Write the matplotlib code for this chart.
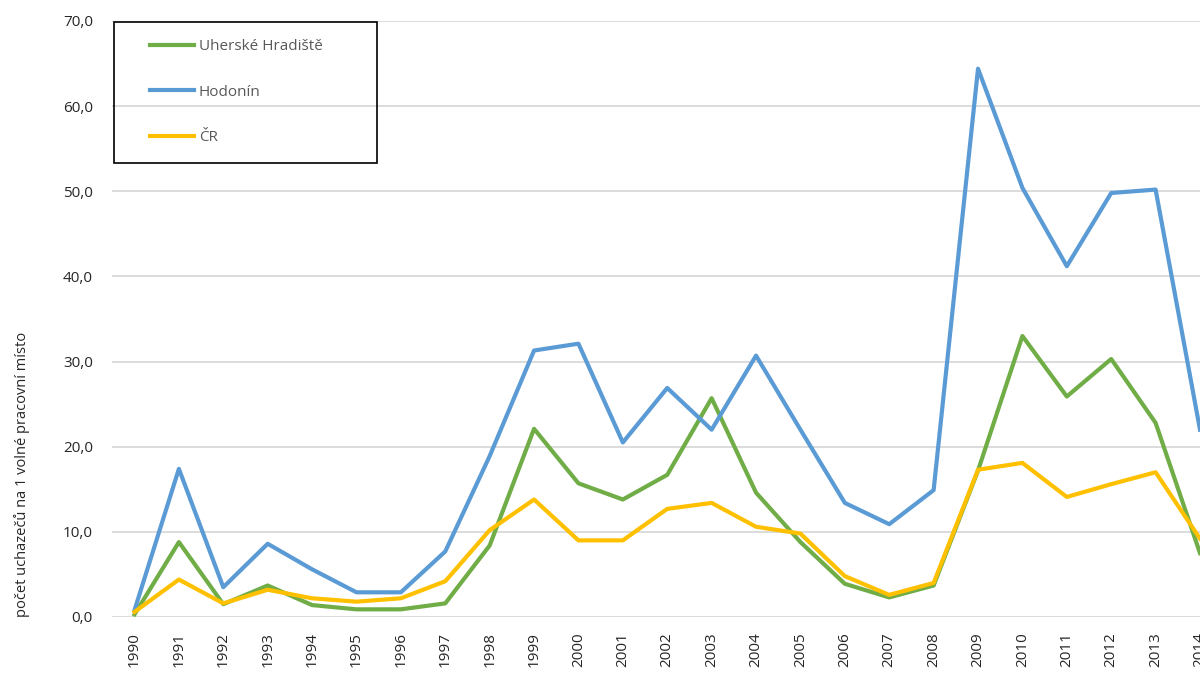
import matplotlib.pyplot as plt
from matplotlib.patches import Rectangle

years = [str(y) for y in range(1990, 2015)]

uherske_hradiste = [0.3, 8.8, 1.5, 3.7, 1.4, 0.9, 0.9, 1.6, 8.4, 22.1, 15.7, 13.8, 16.7,
                    25.7, 14.6, 8.8, 3.9, 2.3, 3.7, 17.2, 33.0, 25.9, 30.3, 22.8, 7.5]
hodonin = [0.8, 17.4, 3.5, 8.6, 5.6, 2.9, 2.9, 7.7, 18.9, 31.3, 32.1, 20.5, 26.9,
           22.0, 30.7, 22.0, 13.4, 10.9, 14.9, 64.4, 50.4, 41.2, 49.8, 50.2, 22.0]
cr = [0.6, 4.4, 1.6, 3.2, 2.2, 1.8, 2.2, 4.2, 10.2, 13.8, 9.0, 9.0, 12.7,
      13.4, 10.6, 9.8, 4.8, 2.6, 4.0, 17.3, 18.1, 14.1, 15.6, 17.0, 9.2]

plt.rcParams['font.family'] = ['Open Sans', 'DejaVu Sans']

W, H = 1200, 677
fig = plt.figure(figsize=(12, 6.77), dpi=100)
ax = fig.add_axes([112.3 / W, 1 - 617 / H, (1200 - 112.3) / W, (617 - 21) / H])

x = list(range(len(years)))
ax.plot(x, uherske_hradiste, color='#70AD47', lw=3, label='Uherské Hradiště', solid_joinstyle='round', zorder=3)
ax.plot(x, hodonin, color='#5B9BD5', lw=3, label='Hodonín', solid_joinstyle='round', zorder=3)
ax.plot(x, cr, color='#FFC000', lw=3, label='ČR', solid_joinstyle='round', zorder=4)

ax.set_xlim(-0.5, 24.0)
ax.set_ylim(0, 70)
ax.set_yticks(range(0, 71, 10))
ax.set_yticklabels([f'{v},0' for v in range(0, 71, 10)])
ax.set_xticks(x)
ax.set_xticklabels(years, rotation=90)
ax.tick_params(axis='y', length=0, pad=14, labelsize=11, labelcolor='#262626')
ax.tick_params(axis='x', length=0, pad=11, labelsize=11, labelcolor='#262626')
for s in ax.spines.values():
    s.set_visible(False)
ax.grid(axis='y', color='#D9D9D9', lw=1.3)
ax.set_axisbelow(True)

fig.text(22 / W, 1 - 617 / H, 'počet uchazečů na 1 volné pracovní místo', rotation=90,
         ha='center', va='bottom', fontsize=10.5, color='#262626')

# legend box
fig.patches.append(Rectangle((114 / W, 1 - 163 / H), (377 - 114) / W, (163 - 22) / H,
                             transform=fig.transFigure, fill=False, edgecolor='black', lw=1.2, zorder=5))
fig.legend(loc='upper left', bbox_to_anchor=(150 / W, 1 - 39 / H), frameon=False,
           borderpad=0, borderaxespad=0, labelspacing=2.0, handlelength=2.9,
           handletextpad=0.3, fontsize=11, labelcolor='#595959')

fig.savefig('out.png', dpi=100)
